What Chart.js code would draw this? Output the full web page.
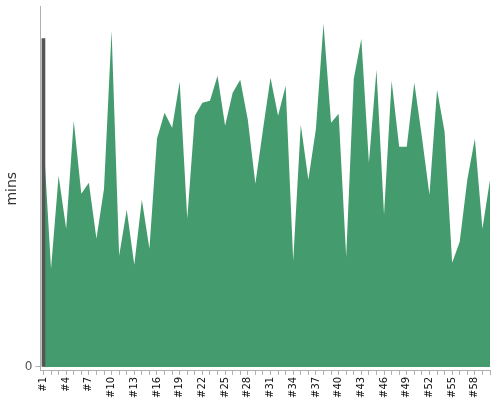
<!DOCTYPE html>
<html lang="en">
<head>
    <meta charset="UTF-8">
    <title>mins</title>
    <script src="https://cdn.jsdelivr.net/npm/chart.js"></script>
    <style>
        html, body {
            margin: 0;
            padding: 0;
            background: #fff;
        }
        #wrap {
            width: 500px;
            height: 400px;
        }
    </style>
</head>
<body>
    <div id="wrap"><canvas id="minsChart"></canvas></div>

    <script>
        const labels = [];
        for (let i = 1; i <= 60; i++) labels.push('#' + i);

        const mins = [
            228, 98, 191, 138, 246, 173, 184, 128, 178, 336,
            111, 157, 102, 167, 118, 228, 254, 239, 285, 148,
            251, 264, 266, 291, 241, 274, 287, 247, 183, 237,
            289, 251, 281, 106, 242, 187, 238, 343, 244, 253,
            110, 288, 328, 204, 297, 152, 286, 220, 220, 284,
            230, 172, 277, 235, 104, 125, 187, 228, 138, 187
        ];

        // first run is drawn as a dark spike
        const firstMins = [328];

        const axisGrey = '#b0b0b0';

        // run number on a linear x scale so #1 sits a little off the y axis
        const minsPoints = mins.map((v, i) => ({ x: i + 1, y: v }));
        const firstPoints = firstMins.map((v, i) => ({ x: i + 1, y: v }));

        new Chart(document.getElementById('minsChart'), {
            type: 'line',
            data: {
                datasets: [{
                    type: 'bar',
                    data: firstPoints,
                    backgroundColor: '#555555',
                    barThickness: 3,
                    order: 0
                }, {
                    data: minsPoints,
                    fill: 'origin',
                    backgroundColor: '#449c6e',
                    borderWidth: 0,
                    pointRadius: 0,
                    tension: 0,
                    order: 1
                }]
            },
            options: {
                responsive: true,
                maintainAspectRatio: false,
                animation: false,
                layout: {
                    padding: { top: 5, right: 10, bottom: 0, left: 4 }
                },
                plugins: {
                    legend: { display: false },
                    tooltip: { enabled: false }
                },
                scales: {
                    x: {
                        type: 'linear',
                        offset: false,
                        min: 0.6,
                        max: labels.length,
                        border: { color: axisGrey },
                        grid: {
                            offset: false,
                            drawOnChartArea: false,
                            color: axisGrey,
                            tickLength: 4
                        },
                        afterBuildTicks: axis => {
                            axis.ticks = labels.map((l, i) => ({ value: i + 1 }));
                        },
                        // last tick has no label, don't reserve room for one
                        afterFit: axis => { axis.paddingRight = 0; },
                        ticks: {
                            autoSkip: false,
                            maxRotation: 90,
                            minRotation: 90,
                            padding: 2,
                            color: '#111',
                            font: { family: 'DejaVu Sans', size: 10 },
                            callback: v => (v - 1) % 3 === 0 ? labels[v - 1] : ''
                        }
                    },
                    y: {
                        min: -4,
                        max: 360,
                        border: { color: axisGrey },
                        grid: {
                            drawOnChartArea: false,
                            color: axisGrey,
                            tickLength: 5
                        },
                        afterBuildTicks: axis => { axis.ticks = [{ value: 0 }]; },
                        ticks: {
                            padding: 3,
                            color: '#555',
                            font: { family: 'DejaVu Sans', size: 12, lineHeight: 0.6 }
                        },
                        title: {
                            display: true,
                            text: 'mins',
                            color: '#333',
                            font: { family: 'DejaVu Sans', size: 14 },
                            padding: { top: 0, bottom: 1 }
                        }
                    }
                }
            }
        });
    </script>
</body>
</html>
